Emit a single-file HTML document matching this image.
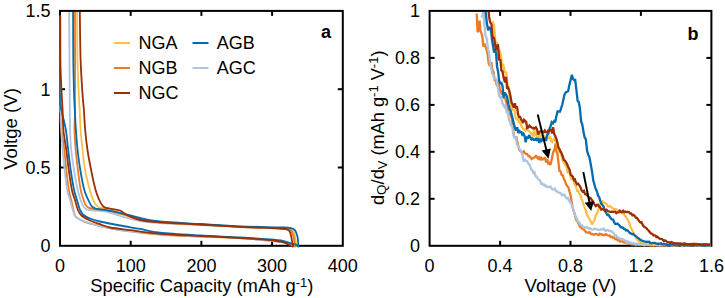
<!DOCTYPE html>
<html><head><meta charset="utf-8"><style>
html,body{margin:0;padding:0;background:#fff;}
svg{display:block;}
text{font-family:"Liberation Sans",sans-serif;font-size:18px;fill:#000;}
</style></head><body>
<svg width="725" height="298" viewBox="0 0 725 298">
<defs><clipPath id="ca"><rect x="59.0" y="12.0" width="282.8" height="235.4"/></clipPath>
<clipPath id="cb"><rect x="428.6" y="12.0" width="281.8" height="235.4"/></clipPath></defs>
<rect x="60.0" y="10.9" width="282.8" height="234.9" fill="none" stroke="#000" stroke-width="2"/>
<rect x="429.6" y="10.9" width="281.8" height="234.9" fill="none" stroke="#000" stroke-width="2"/>
<line x1="130.7" y1="245.8" x2="130.7" y2="240.8" stroke="#000" stroke-width="2"/>
<line x1="130.7" y1="10.9" x2="130.7" y2="15.9" stroke="#000" stroke-width="2"/>
<line x1="201.4" y1="245.8" x2="201.4" y2="240.8" stroke="#000" stroke-width="2"/>
<line x1="201.4" y1="10.9" x2="201.4" y2="15.9" stroke="#000" stroke-width="2"/>
<line x1="272.1" y1="245.8" x2="272.1" y2="240.8" stroke="#000" stroke-width="2"/>
<line x1="272.1" y1="10.9" x2="272.1" y2="15.9" stroke="#000" stroke-width="2"/>
<line x1="60.0" y1="167.5" x2="65.0" y2="167.5" stroke="#000" stroke-width="2"/>
<line x1="342.8" y1="167.5" x2="337.8" y2="167.5" stroke="#000" stroke-width="2"/>
<line x1="60.0" y1="89.2" x2="65.0" y2="89.2" stroke="#000" stroke-width="2"/>
<line x1="342.8" y1="89.2" x2="337.8" y2="89.2" stroke="#000" stroke-width="2"/>
<line x1="500.1" y1="245.8" x2="500.1" y2="240.8" stroke="#000" stroke-width="2"/>
<line x1="500.1" y1="10.9" x2="500.1" y2="15.9" stroke="#000" stroke-width="2"/>
<line x1="570.5" y1="245.8" x2="570.5" y2="240.8" stroke="#000" stroke-width="2"/>
<line x1="570.5" y1="10.9" x2="570.5" y2="15.9" stroke="#000" stroke-width="2"/>
<line x1="640.9" y1="245.8" x2="640.9" y2="240.8" stroke="#000" stroke-width="2"/>
<line x1="640.9" y1="10.9" x2="640.9" y2="15.9" stroke="#000" stroke-width="2"/>
<line x1="429.6" y1="198.8" x2="434.6" y2="198.8" stroke="#000" stroke-width="2"/>
<line x1="711.4" y1="198.8" x2="706.4" y2="198.8" stroke="#000" stroke-width="2"/>
<line x1="429.6" y1="151.8" x2="434.6" y2="151.8" stroke="#000" stroke-width="2"/>
<line x1="711.4" y1="151.8" x2="706.4" y2="151.8" stroke="#000" stroke-width="2"/>
<line x1="429.6" y1="104.9" x2="434.6" y2="104.9" stroke="#000" stroke-width="2"/>
<line x1="711.4" y1="104.9" x2="706.4" y2="104.9" stroke="#000" stroke-width="2"/>
<line x1="429.6" y1="57.9" x2="434.6" y2="57.9" stroke="#000" stroke-width="2"/>
<line x1="711.4" y1="57.9" x2="706.4" y2="57.9" stroke="#000" stroke-width="2"/>
<g clip-path="url(#ca)" fill="none" stroke-width="1.8" stroke-linejoin="round" stroke-linecap="round">
<path d="M60.20 17.00 C60.22 32.50 60.08 91.17 60.30 110.00 C60.52 128.83 60.83 123.33 61.50 130.00 C62.17 136.67 63.50 143.33 64.30 150.00 C65.10 156.67 65.55 163.33 66.30 170.00 C67.05 176.67 67.98 185.00 68.80 190.00 C69.62 195.00 70.42 196.67 71.20 200.00 C71.98 203.33 72.78 207.25 73.50 210.00 C74.22 212.75 73.58 214.50 75.50 216.50 C77.42 218.50 80.92 220.42 85.00 222.00 C89.08 223.58 94.17 224.67 100.00 226.00 C105.83 227.33 110.00 228.58 120.00 230.00 C130.00 231.42 146.67 233.42 160.00 234.50 C173.33 235.58 186.67 235.88 200.00 236.50 C213.33 237.12 225.83 237.20 240.00 238.20 C254.17 239.20 276.17 241.20 285.00 242.50 C293.83 243.80 291.67 245.42 293.00 246.00" stroke="#ec7a22"/>
<path d="M69.10 10.00 C69.17 18.33 69.38 43.33 69.50 60.00 C69.62 76.67 69.70 98.33 69.80 110.00 C69.90 121.67 69.87 123.33 70.10 130.00 C70.33 136.67 70.55 143.33 71.20 150.00 C71.85 156.67 72.92 163.33 74.00 170.00 C75.08 176.67 76.60 185.00 77.70 190.00 C78.80 195.00 79.63 197.25 80.60 200.00 C81.57 202.75 82.52 204.95 83.50 206.50 C84.48 208.05 84.58 208.63 86.50 209.30 C88.42 209.97 91.75 210.12 95.00 210.50 C98.25 210.88 101.83 210.68 106.00 211.60 C110.17 212.52 114.33 214.43 120.00 216.00 C125.67 217.57 133.33 219.83 140.00 221.00 C146.67 222.17 150.00 222.33 160.00 223.00 C170.00 223.67 186.67 224.33 200.00 225.00 C213.33 225.67 226.67 226.42 240.00 227.00 C253.33 227.58 271.58 228.08 280.00 228.50 C288.42 228.92 288.33 228.92 290.50 229.50 C292.67 230.08 292.25 229.25 293.00 232.00 C293.75 234.75 294.67 243.67 295.00 246.00" stroke="#aec4df"/>
<path d="M60.30 17.00 C60.33 31.67 60.38 89.50 60.50 105.00 C60.62 120.50 60.88 105.83 61.00 110.00 C61.12 114.17 60.92 123.33 61.20 130.00 C61.48 136.67 62.13 143.33 62.70 150.00 C63.27 156.67 63.85 163.33 64.60 170.00 C65.35 176.67 66.28 185.00 67.20 190.00 C68.12 195.00 69.15 196.67 70.10 200.00 C71.05 203.33 72.00 207.25 72.90 210.00 C73.80 212.75 73.48 214.58 75.50 216.50 C77.52 218.42 80.92 219.88 85.00 221.50 C89.08 223.12 94.17 224.78 100.00 226.20 C105.83 227.62 110.00 228.70 120.00 230.00 C130.00 231.30 146.67 232.95 160.00 234.00 C173.33 235.05 186.67 235.60 200.00 236.30 C213.33 237.00 225.83 237.17 240.00 238.20 C254.17 239.23 276.33 241.28 285.00 242.50 C293.67 243.72 290.83 245.00 292.00 245.50" stroke="#aec4df"/>
<path d="M77.10 10.00 C77.17 18.33 77.22 45.83 77.50 60.00 C77.78 74.17 78.43 86.67 78.80 95.00 C79.17 103.33 79.40 104.17 79.70 110.00 C80.00 115.83 80.12 123.33 80.60 130.00 C81.08 136.67 81.87 143.33 82.60 150.00 C83.33 156.67 83.80 163.33 85.00 170.00 C86.20 176.67 88.43 185.00 89.80 190.00 C91.17 195.00 92.08 197.42 93.20 200.00 C94.32 202.58 95.37 204.23 96.50 205.50 C97.63 206.77 98.42 207.02 100.00 207.60 C101.58 208.18 102.67 208.10 106.00 209.00 C109.33 209.90 116.00 211.67 120.00 213.00 C124.00 214.33 126.67 215.92 130.00 217.00 C133.33 218.08 135.00 218.62 140.00 219.50 C145.00 220.38 150.00 221.47 160.00 222.30 C170.00 223.13 186.67 223.75 200.00 224.50 C213.33 225.25 226.67 226.17 240.00 226.80 C253.33 227.43 271.50 227.93 280.00 228.30 C288.50 228.67 288.67 228.47 291.00 229.00 C293.33 229.53 293.08 228.67 294.00 231.50 C294.92 234.33 296.08 243.58 296.50 246.00" stroke="#fdc046"/>
<path d="M75.00 10.00 C75.02 18.33 75.10 43.33 75.10 60.00 C75.10 76.67 75.10 98.33 75.00 110.00 C74.90 121.67 74.38 123.33 74.50 130.00 C74.62 136.67 75.13 143.33 75.70 150.00 C76.27 156.67 77.07 163.33 77.90 170.00 C78.73 176.67 79.75 185.00 80.70 190.00 C81.65 195.00 82.72 197.42 83.60 200.00 C84.48 202.58 85.10 204.20 86.00 205.50 C86.90 206.80 87.50 207.22 89.00 207.80 C90.50 208.38 92.17 208.62 95.00 209.00 C97.83 209.38 101.00 209.10 106.00 210.10 C111.00 211.10 119.33 213.55 125.00 215.00 C130.67 216.45 134.17 217.58 140.00 218.80 C145.83 220.02 150.00 221.35 160.00 222.30 C170.00 223.25 186.67 223.75 200.00 224.50 C213.33 225.25 226.67 226.17 240.00 226.80 C253.33 227.43 272.00 227.93 280.00 228.30 C288.00 228.67 286.17 228.63 288.00 229.00 C289.83 229.37 290.17 229.50 291.00 230.50 C291.83 231.50 292.45 233.42 293.00 235.00 C293.55 236.58 293.97 238.00 294.30 240.00 C294.63 242.00 294.88 245.83 295.00 247.00" stroke="#ec7a22"/>
<path d="M73.10 10.00 C73.13 18.33 73.13 45.83 73.30 60.00 C73.47 74.17 73.85 86.67 74.10 95.00 C74.35 103.33 74.50 104.17 74.80 110.00 C75.10 115.83 75.43 123.33 75.90 130.00 C76.37 136.67 76.87 143.33 77.60 150.00 C78.33 156.67 79.18 163.33 80.30 170.00 C81.42 176.67 82.97 185.00 84.30 190.00 C85.63 195.00 87.10 197.33 88.30 200.00 C89.50 202.67 90.38 204.62 91.50 206.00 C92.62 207.38 93.58 207.75 95.00 208.30 C96.42 208.85 98.17 209.00 100.00 209.30 C101.83 209.60 102.67 209.52 106.00 210.10 C109.33 210.68 114.73 211.58 120.00 212.80 C125.27 214.02 130.93 215.95 137.60 217.40 C144.27 218.85 149.60 220.40 160.00 221.50 C170.40 222.60 186.67 223.20 200.00 224.00 C213.33 224.80 226.67 225.73 240.00 226.30 C253.33 226.87 271.50 227.10 280.00 227.40 C288.50 227.70 288.48 227.62 291.00 228.10 C293.52 228.58 294.05 228.98 295.10 230.30 C296.15 231.62 296.82 234.38 297.30 236.00 C297.78 237.62 297.83 238.17 298.00 240.00 C298.17 241.83 298.25 245.83 298.30 247.00" stroke="#046cae"/>
<path d="M59.90 17.00 C59.90 30.00 59.80 80.33 59.90 95.00 C60.00 109.67 60.07 101.67 60.50 105.00 C60.93 108.33 61.60 110.83 62.50 115.00 C63.40 119.17 64.95 124.17 65.90 130.00 C66.85 135.83 67.40 143.33 68.20 150.00 C69.00 156.67 69.72 163.33 70.70 170.00 C71.68 176.67 73.05 185.00 74.10 190.00 C75.15 195.00 76.00 196.67 77.00 200.00 C78.00 203.33 79.10 207.58 80.10 210.00 C81.10 212.42 81.35 213.08 83.00 214.50 C84.65 215.92 87.17 217.33 90.00 218.50 C92.83 219.67 95.00 220.33 100.00 221.50 C105.00 222.67 113.33 224.27 120.00 225.50 C126.67 226.73 133.33 227.70 140.00 228.90 C146.67 230.10 150.00 231.60 160.00 232.70 C170.00 233.80 186.67 234.70 200.00 235.50 C213.33 236.30 228.33 236.83 240.00 237.50 C251.67 238.17 262.83 238.92 270.00 239.50 C277.17 240.08 279.50 240.35 283.00 241.00 C286.50 241.65 288.98 242.83 291.00 243.40 C293.02 243.97 293.88 243.97 295.10 244.40 C296.32 244.83 297.77 245.73 298.30 246.00" stroke="#046cae"/>
<path d="M79.80 10.00 C79.93 18.33 80.13 45.83 80.60 60.00 C81.07 74.17 82.05 86.67 82.60 95.00 C83.15 103.33 83.47 104.17 83.90 110.00 C84.33 115.83 84.60 123.33 85.20 130.00 C85.80 136.67 86.52 143.33 87.50 150.00 C88.48 156.67 89.75 163.33 91.10 170.00 C92.45 176.67 94.23 185.00 95.60 190.00 C96.97 195.00 98.17 197.42 99.30 200.00 C100.43 202.58 101.45 204.23 102.40 205.50 C103.35 206.77 103.73 207.08 105.00 207.60 C106.27 208.12 107.50 208.12 110.00 208.60 C112.50 209.08 117.17 209.43 120.00 210.50 C122.83 211.57 123.67 213.42 127.00 215.00 C130.33 216.58 134.50 218.78 140.00 220.00 C145.50 221.22 150.00 221.55 160.00 222.30 C170.00 223.05 186.67 223.75 200.00 224.50 C213.33 225.25 226.67 226.13 240.00 226.80 C253.33 227.47 272.17 228.03 280.00 228.50 C287.83 228.97 285.35 229.03 287.00 229.60 C288.65 230.17 289.08 230.15 289.90 231.90 C290.72 233.65 291.43 237.58 291.90 240.10 C292.37 242.62 292.57 245.85 292.70 247.00" stroke="#9c2f04"/>
<path d="M60.20 16.00 C60.22 23.33 60.17 49.33 60.30 60.00 C60.43 70.67 60.72 73.33 61.00 80.00 C61.28 86.67 61.73 95.00 62.00 100.00 C62.27 105.00 62.37 105.00 62.60 110.00 C62.83 115.00 62.78 123.33 63.40 130.00 C64.02 136.67 65.40 143.33 66.30 150.00 C67.20 156.67 67.87 163.33 68.80 170.00 C69.73 176.67 70.87 185.00 71.90 190.00 C72.93 195.00 74.00 196.67 75.00 200.00 C76.00 203.33 76.82 207.42 77.90 210.00 C78.98 212.58 79.48 213.75 81.50 215.50 C83.52 217.25 86.92 219.05 90.00 220.50 C93.08 221.95 96.67 223.03 100.00 224.20 C103.33 225.37 105.00 226.50 110.00 227.50 C115.00 228.50 121.67 229.15 130.00 230.20 C138.33 231.25 148.33 232.83 160.00 233.80 C171.67 234.77 186.67 235.30 200.00 236.00 C213.33 236.70 228.33 237.33 240.00 238.00 C251.67 238.67 262.83 239.32 270.00 240.00 C277.17 240.68 279.62 241.18 283.00 242.10 C286.38 243.02 289.08 244.93 290.30 245.50" stroke="#9c2f04"/>
</g>
<g clip-path="url(#cb)" fill="none" stroke-width="2.3" stroke-linejoin="miter" stroke-miterlimit="2">
<path d="M476.7 13.5 L477.6 32.1 L478.5 30.9 L479.5 20.6 L480.5 31.0 L481.5 33.4 L482.4 36.9 L483.3 46.5 L484.4 43.6 L485.4 46.6 L486.5 49.5 L487.7 54.6 L488.8 63.9 L490.0 65.9 L491.2 62.2 L492.3 69.5 L493.5 72.3 L494.6 80.0 L495.6 80.3 L496.7 84.7 L497.7 83.9 L498.8 80.5 L499.8 90.0 L500.9 91.6 L501.9 94.6 L503.0 91.8 L504.0 98.0 L505.1 98.1 L506.3 102.2 L507.5 108.9 L508.7 112.9 L509.9 113.9 L511.1 116.2 L512.1 119.3 L513.0 127.8 L514.0 135.7 L515.0 137.9 L516.1 136.3 L517.2 141.0 L518.2 145.5 L519.3 149.7 L520.4 151.1 L521.5 152.1 L522.6 152.6 L523.8 151.4 L524.9 153.1 L526.1 154.0 L527.2 154.1 L528.4 156.1 L529.5 156.2 L530.6 157.4 L531.7 159.1 L532.8 158.2 L533.8 157.9 L534.9 157.0 L536.0 155.3 L537.1 157.6 L538.2 158.7 L539.4 156.7 L540.5 160.2 L541.6 158.1 L542.7 159.4 L543.9 158.6 L545.0 157.5 L546.1 162.4 L547.2 159.3 L548.2 163.5 L549.3 162.9 L550.4 165.0 L551.4 161.1 L552.5 155.2 L553.5 151.5 L554.6 149.3 L555.6 143.5 L556.5 151.9 L557.3 152.7 L558.4 162.0 L559.5 171.1 L560.6 171.4 L561.7 175.0 L562.8 175.4 L563.9 179.0 L565.0 181.0 L566.1 184.3 L567.2 186.1 L568.4 187.3 L569.5 191.6 L570.5 194.9 L571.5 201.1 L572.4 206.3 L573.4 210.4 L574.5 213.2 L575.6 217.8 L576.7 220.8 L577.7 221.7 L578.7 223.9 L579.7 226.4 L580.7 227.3 L581.8 228.4 L582.9 229.1 L583.9 229.4 L585.0 230.9 L586.1 232.3 L587.3 232.5 L588.4 232.6 L589.6 232.1 L590.7 233.8 L591.9 233.9 L593.0 234.3 L594.2 234.8 L595.3 234.1 L596.4 234.0 L597.5 234.5 L598.6 235.1 L599.7 233.7 L600.7 234.4 L601.8 234.3 L602.9 234.9 L604.0 235.3 L605.1 234.6 L606.2 234.3 L607.3 235.3 L608.5 235.6 L609.6 235.5 L610.7 237.0 L611.9 236.8 L613.0 237.8 L614.1 237.5 L615.3 239.1 L616.4 238.6 L617.6 240.2 L618.7 239.6 L619.9 241.5 L621.0 241.3 L622.0 241.2 L623.1 242.0 L624.1 242.5 L625.2 242.3 L626.2 242.8 L627.3 243.4 L628.3 243.6 L629.4 243.1 L630.4 244.1 L631.5 244.4 L632.6 244.4 L633.7 244.6 L634.8 244.2 L635.8 245.1 L636.9 244.7 L638.0 244.7 L639.1 244.9 L640.2 244.9 L641.3 244.8 L642.4 244.7 L643.5 245.1 L644.6 245.0 L645.6 244.5 L646.7 244.8 L647.8 245.2 L648.9 245.2 L650.0 245.3 L651.1 245.4 L652.2 245.2 L653.3 245.6 L654.4 245.1 L655.5 245.1 L656.7 245.3 L657.8 245.4 L658.9 245.4 L660.0 245.6 L661.1 245.1 L662.2 245.5 L663.3 245.4 L664.4 245.0 L665.5 245.2 L666.6 245.8 L667.7 245.5 L668.9 245.1 L670.0 244.7 L671.1 245.1 L672.2 245.1 L673.3 245.3 L674.4 245.9 L675.5 245.5 L676.6 245.4 L677.7 245.1 L678.8 245.0 L679.9 245.2 L681.1 245.2 L682.2 246.1 L683.3 245.2 L684.4 245.2 L685.5 245.6 L686.6 245.3 L687.7 245.0 L688.8 245.6 L689.9 245.3 L691.0 245.0 L692.1 245.4 L693.3 245.5 L694.4 245.3 L695.5 245.5 L696.6 245.6 L697.7 245.1 L698.8 244.8 L699.9 244.8 L701.0 245.3 L702.1 245.7 L703.2 245.6 L704.3 245.7 L705.5 245.8 L706.6 245.4 L707.7 245.7 L708.8 245.0 L709.9 245.6 L711.0 245.5" stroke="#ec7a22"/>
<path d="M481.4 17.6 L482.4 15.5 L483.4 11.7 L484.4 24.1 L485.4 35.6 L486.8 38.6 L488.1 50.2 L489.1 52.7 L490.0 63.6 L491.0 66.5 L492.1 73.8 L493.1 74.3 L494.1 78.5 L495.2 78.0 L496.4 79.6 L497.5 85.7 L498.6 93.1 L499.8 97.9 L501.0 95.8 L502.1 102.2 L503.2 104.9 L504.4 106.7 L505.5 104.7 L506.7 112.2 L507.8 112.0 L509.0 119.8 L510.1 121.8 L511.1 126.3 L512.1 124.9 L513.3 134.4 L514.5 137.8 L515.8 137.5 L517.0 144.7 L518.1 145.9 L519.2 148.2 L520.4 150.1 L521.5 152.5 L522.6 155.0 L523.7 161.6 L524.8 159.1 L525.9 160.7 L527.0 161.1 L528.0 162.8 L529.1 164.6 L530.1 165.9 L531.2 169.7 L532.2 170.0 L533.4 173.0 L534.5 172.3 L535.7 176.3 L536.8 176.8 L538.0 179.2 L539.0 179.7 L540.0 180.2 L541.0 183.6 L542.0 183.3 L543.0 184.9 L544.1 184.6 L545.1 186.0 L546.2 185.8 L547.3 186.9 L548.4 187.3 L549.4 186.8 L550.5 186.5 L551.6 188.6 L552.6 189.4 L553.7 189.6 L554.8 188.7 L555.8 190.9 L556.9 191.4 L558.0 192.0 L559.0 192.8 L560.1 192.8 L561.2 193.9 L562.3 195.2 L563.3 194.7 L564.4 194.6 L565.5 196.9 L566.6 198.4 L567.7 198.0 L568.8 200.1 L569.9 202.2 L571.0 202.9 L572.2 206.6 L573.4 209.2 L574.6 213.6 L575.8 217.1 L576.9 219.0 L578.1 221.7 L579.2 222.4 L580.2 224.4 L581.3 225.0 L582.3 225.5 L583.4 227.4 L584.5 227.5 L585.6 227.8 L586.8 227.0 L587.9 228.1 L589.0 228.8 L590.1 228.2 L591.2 229.3 L592.4 229.6 L593.5 229.5 L594.6 228.7 L595.7 228.8 L596.9 229.6 L598.0 229.7 L599.1 229.8 L600.2 229.9 L601.4 229.3 L602.5 229.3 L603.6 228.6 L604.7 230.1 L605.8 231.0 L607.0 229.9 L608.1 230.1 L609.2 230.9 L610.3 231.0 L611.4 231.1 L612.5 232.3 L613.6 233.0 L614.8 235.3 L615.9 235.0 L617.0 236.6 L618.1 237.7 L619.2 238.3 L620.4 238.8 L621.5 239.5 L622.6 239.0 L623.7 240.1 L624.8 240.4 L625.9 241.0 L627.0 242.6 L628.2 241.3 L629.3 242.7 L630.4 242.4 L631.5 243.4 L632.6 243.5 L633.8 243.2 L634.9 244.0 L636.0 243.6 L637.1 244.1 L638.2 244.0 L639.3 243.9 L640.4 244.1 L641.6 244.3 L642.7 244.6 L643.8 244.6 L644.9 245.2 L646.0 244.6 L647.1 244.6 L648.3 244.5 L649.4 244.6 L650.5 244.4 L651.6 244.6 L652.7 245.1 L653.8 244.9 L655.0 244.9 L656.1 245.0 L657.2 245.2 L658.3 245.2 L659.4 245.2 L660.5 244.9 L661.7 245.0 L662.8 244.9 L663.9 245.1 L665.0 245.0 L666.1 245.1 L667.2 245.2 L668.3 245.2 L669.4 245.2 L670.5 245.1 L671.6 245.6 L672.7 245.1 L673.8 245.0 L674.9 245.3 L676.0 245.0 L677.0 245.0 L678.1 245.3 L679.2 244.8 L680.3 244.5 L681.4 245.3 L682.5 245.5 L683.6 244.9 L684.7 245.1 L685.8 245.4 L686.9 244.8 L688.0 245.1 L689.1 245.0 L690.2 245.3 L691.3 244.8 L692.4 245.5 L693.5 245.3 L694.6 245.4 L695.7 245.3 L696.8 244.8 L697.9 245.3 L699.0 245.0 L700.0 245.4 L701.1 245.1 L702.2 245.3 L703.3 245.3 L704.4 245.6 L705.5 245.6 L706.6 245.1 L707.7 245.4 L708.8 245.8 L709.9 245.5 L711.0 245.2" stroke="#aec4df"/>
<path d="M491.5 23.7 L492.8 22.3 L494.1 25.2 L495.5 43.8 L496.8 42.1 L497.9 59.0 L499.0 50.7 L500.0 51.3 L501.1 56.9 L502.1 66.3 L503.1 63.8 L504.1 69.2 L505.2 73.1 L506.2 71.9 L507.2 81.7 L508.1 86.0 L509.1 90.2 L510.1 102.4 L511.2 106.7 L512.3 110.2 L513.4 110.2 L514.6 110.1 L515.7 118.3 L516.9 119.4 L518.0 118.3 L519.0 123.0 L520.1 121.1 L521.1 125.5 L522.1 127.0 L523.1 128.6 L524.2 129.5 L525.2 130.5 L526.3 128.4 L527.4 130.3 L528.5 130.5 L529.6 131.5 L530.8 132.9 L531.9 134.1 L533.0 136.5 L534.1 128.8 L535.2 135.0 L536.4 134.3 L537.7 139.4 L538.9 137.4 L540.1 133.0 L541.2 137.2 L542.3 135.9 L543.4 139.0 L544.5 135.6 L545.6 137.7 L546.6 138.0 L547.7 138.5 L548.8 138.0 L549.9 136.1 L551.0 140.6 L552.1 141.9 L553.1 140.2 L554.2 138.8 L555.2 141.1 L556.2 142.0 L557.1 143.7 L558.1 147.0 L559.0 152.2 L560.0 151.3 L561.0 155.2 L562.0 156.4 L563.0 161.2 L564.2 163.1 L565.4 164.9 L566.5 167.2 L567.7 172.3 L568.9 171.9 L570.1 174.0 L571.3 179.1 L572.5 179.2 L573.6 180.1 L574.8 184.8 L576.0 186.1 L577.1 190.9 L578.2 190.7 L579.3 193.7 L580.4 195.3 L581.5 199.1 L582.6 201.3 L583.7 205.0 L584.8 207.8 L585.9 210.6 L587.0 214.6 L588.0 216.6 L589.0 218.2 L590.0 219.8 L591.0 221.8 L592.0 224.5 L593.2 222.1 L594.3 220.6 L595.5 216.5 L596.7 213.7 L597.8 211.2 L599.0 208.3 L600.0 205.5 L601.0 203.2 L602.0 200.5 L603.1 202.7 L604.3 202.7 L605.4 203.5 L606.6 203.9 L607.7 206.2 L608.8 206.5 L609.8 206.1 L610.9 206.6 L612.0 207.7 L613.1 208.8 L614.1 209.0 L615.2 209.1 L616.2 209.3 L617.3 210.2 L618.3 210.5 L619.4 212.3 L620.4 210.7 L621.4 211.7 L622.5 213.2 L623.5 212.7 L624.5 215.4 L625.5 216.2 L626.5 217.9 L627.5 219.3 L628.5 221.0 L629.5 223.4 L630.5 227.2 L631.5 228.6 L632.5 230.8 L633.6 233.2 L634.8 235.2 L635.9 237.7 L637.0 239.4 L638.0 240.2 L639.0 241.4 L640.0 241.6 L641.0 242.0 L642.1 242.5 L643.2 242.5 L644.4 243.1 L645.5 242.7 L646.6 242.9 L647.7 243.2 L648.8 243.8 L649.9 243.5 L651.1 243.7 L652.2 243.7 L653.3 243.9 L654.4 244.2 L655.5 244.5 L656.6 243.8 L657.8 244.7 L658.9 244.5 L660.0 244.5 L661.1 245.2 L662.2 244.6 L663.3 245.1 L664.4 244.9 L665.5 244.4 L666.7 244.8 L667.8 244.9 L668.9 244.7 L670.0 244.2 L671.1 244.7 L672.2 244.7 L673.3 244.5 L674.4 245.3 L675.5 244.8 L676.6 244.7 L677.7 244.8 L678.8 244.7 L680.0 244.7 L681.1 244.9 L682.2 245.0 L683.3 244.8 L684.4 244.9 L685.5 244.6 L686.6 245.1 L687.7 244.8 L688.8 245.0 L689.9 244.8 L691.0 244.9 L692.2 245.1 L693.3 244.8 L694.4 245.7 L695.5 245.1 L696.6 245.1 L697.7 244.9 L698.8 245.5 L699.9 245.5 L701.0 245.2 L702.1 244.8 L703.2 245.1 L704.3 245.4 L705.5 245.1 L706.6 244.9 L707.7 245.0 L708.8 245.1 L709.9 245.3 L711.0 245.1" stroke="#fdc046"/>
<path d="M485.4 9.6 L486.8 22.6 L488.1 30.3 L489.5 27.7 L490.8 28.7 L491.9 38.9 L493.0 45.7 L494.1 52.6 L495.1 48.6 L496.1 54.0 L497.1 67.1 L498.1 71.7 L499.1 80.2 L500.2 83.2 L501.4 83.0 L502.5 85.8 L503.6 97.6 L504.8 92.5 L506.0 94.5 L507.1 96.9 L508.3 104.2 L509.5 108.4 L510.7 111.2 L511.9 115.9 L513.1 120.6 L514.1 124.8 L515.2 128.9 L516.2 130.4 L517.2 127.3 L518.2 133.1 L519.2 129.8 L520.2 133.0 L521.2 131.4 L522.3 134.7 L523.5 133.7 L524.6 136.0 L525.7 142.2 L526.9 136.4 L528.0 138.6 L529.1 135.0 L530.3 137.3 L531.4 139.5 L532.6 138.5 L533.7 139.8 L534.9 139.8 L536.0 138.2 L537.1 140.9 L538.2 138.3 L539.3 143.0 L540.4 138.7 L541.6 140.7 L542.7 139.3 L543.8 140.9 L544.9 138.0 L546.0 140.8 L547.1 135.1 L548.3 134.1 L549.4 129.3 L550.6 126.2 L551.7 122.1 L552.9 123.3 L554.1 121.1 L555.2 122.2 L556.4 116.1 L557.6 111.4 L558.8 111.7 L560.0 111.7 L561.2 108.0 L562.3 104.5 L563.5 98.9 L564.6 94.2 L565.8 92.4 L567.0 91.7 L568.2 91.0 L569.4 84.8 L570.5 80.5 L571.9 74.7 L573.0 78.9 L574.1 80.1 L575.2 80.0 L576.4 89.9 L577.6 100.8 L578.8 102.0 L579.9 108.2 L581.1 121.4 L582.3 124.5 L583.5 131.8 L584.6 137.3 L585.8 139.2 L587.1 150.8 L588.3 155.0 L589.2 156.5 L590.2 161.1 L591.2 167.0 L592.2 172.5 L593.2 180.1 L594.2 183.6 L595.2 187.3 L596.2 189.9 L597.2 192.4 L598.2 196.1 L599.2 197.0 L600.2 200.9 L601.2 203.4 L602.3 204.8 L603.3 206.1 L604.3 208.5 L605.2 211.0 L606.2 213.0 L607.4 215.0 L608.5 214.8 L609.7 216.7 L610.8 218.4 L612.0 219.3 L613.1 219.5 L614.3 222.5 L615.3 224.0 L616.4 223.9 L617.4 223.6 L618.5 224.6 L619.5 225.5 L620.6 227.3 L621.6 227.1 L622.7 227.5 L623.7 228.8 L624.8 228.8 L625.8 230.4 L626.9 230.0 L628.0 230.8 L629.0 232.1 L630.1 233.2 L631.2 233.6 L632.3 234.2 L633.3 234.0 L634.4 235.2 L635.6 236.0 L636.7 236.8 L637.9 238.1 L639.0 238.4 L640.2 239.7 L641.3 240.2 L642.5 240.8 L643.6 241.2 L644.7 241.5 L645.9 241.9 L647.0 241.6 L648.1 241.9 L649.2 241.7 L650.4 243.1 L651.5 243.3 L652.6 242.8 L653.7 242.9 L654.8 242.9 L655.8 243.3 L656.9 243.5 L658.0 244.1 L659.1 243.7 L660.1 243.6 L661.2 243.3 L662.3 244.4 L663.4 244.3 L664.4 243.9 L665.5 244.5 L666.6 244.2 L667.7 245.5 L668.8 244.9 L669.9 244.8 L671.1 244.7 L672.2 244.2 L673.3 244.7 L674.4 244.4 L675.5 245.0 L676.6 244.3 L677.7 244.7 L678.9 245.2 L680.0 245.4 L681.1 244.7 L682.2 244.6 L683.3 245.2 L684.4 245.3 L685.5 244.8 L686.7 244.9 L687.8 245.0 L688.9 244.9 L690.0 245.0 L691.1 245.5 L692.2 245.4 L693.3 245.7 L694.4 245.2 L695.5 245.2 L696.6 245.0 L697.7 245.2 L698.8 245.0 L699.9 244.9 L701.1 245.5 L702.2 245.7 L703.3 245.5 L704.4 245.7 L705.5 245.4 L706.6 245.2 L707.7 245.4 L708.8 245.3 L709.9 245.1 L711.0 245.0" stroke="#046cae"/>
<path d="M488.1 4.1 L489.1 16.7 L490.1 22.2 L491.5 24.5 L492.8 38.9 L493.9 37.2 L494.9 43.2 L495.9 50.0 L497.0 45.6 L498.1 45.3 L499.2 60.3 L500.3 59.0 L501.4 70.6 L502.5 71.2 L503.8 78.4 L505.0 82.5 L506.1 76.8 L507.2 88.9 L508.2 88.0 L509.3 91.2 L510.4 95.5 L511.5 102.1 L512.6 104.8 L513.8 107.6 L514.9 103.3 L516.0 108.5 L517.0 106.3 L518.0 113.8 L519.0 117.4 L520.0 116.3 L521.0 119.5 L522.1 120.4 L523.1 123.0 L524.1 119.9 L525.1 120.9 L526.2 121.9 L527.2 128.2 L528.3 127.5 L529.4 125.6 L530.5 126.9 L531.6 127.4 L532.7 128.2 L533.7 128.0 L534.8 128.4 L535.9 127.3 L537.0 129.2 L538.1 134.4 L539.2 132.3 L540.3 131.4 L541.4 131.0 L542.5 131.7 L543.7 132.3 L544.8 130.5 L545.9 132.3 L547.0 132.5 L548.1 130.6 L549.1 130.5 L550.1 130.0 L551.1 129.8 L552.1 133.5 L553.1 127.1 L554.2 134.0 L555.3 136.1 L556.4 138.9 L557.5 143.1 L558.5 147.8 L559.5 149.0 L560.6 151.6 L561.6 153.2 L562.7 156.2 L563.8 160.0 L564.8 160.5 L566.0 162.0 L567.2 164.4 L568.3 167.2 L569.5 169.4 L570.7 174.9 L571.8 175.7 L572.8 176.7 L573.9 180.1 L574.9 179.5 L576.0 182.6 L577.0 184.3 L578.1 183.7 L579.2 185.1 L580.4 187.0 L581.5 190.1 L582.7 191.7 L583.9 190.9 L585.0 194.2 L586.1 194.2 L587.2 195.4 L588.3 196.4 L589.3 197.8 L590.4 197.8 L591.5 199.7 L592.6 200.7 L593.7 202.8 L594.7 204.8 L595.8 206.1 L596.9 204.9 L598.0 204.8 L599.0 206.6 L600.1 207.1 L601.2 209.5 L602.3 209.1 L603.4 208.8 L604.4 210.4 L605.5 210.7 L606.6 209.9 L607.7 211.1 L608.8 211.4 L609.8 211.6 L610.9 211.8 L612.0 211.6 L613.1 212.1 L614.1 211.7 L615.2 211.6 L616.3 213.1 L617.5 212.3 L618.6 212.2 L619.8 210.9 L620.9 211.7 L622.0 212.3 L623.2 210.9 L624.3 212.3 L625.5 211.5 L626.6 212.0 L627.8 211.8 L629.0 212.1 L630.1 213.6 L631.2 213.4 L632.4 215.4 L633.5 214.9 L634.6 215.7 L635.8 217.7 L636.9 217.9 L638.0 219.4 L639.2 221.2 L640.4 222.5 L641.5 222.1 L642.5 224.4 L643.5 226.2 L644.5 227.0 L645.5 227.4 L646.7 228.5 L647.9 230.0 L649.0 231.0 L650.2 232.7 L651.2 233.4 L652.3 234.0 L653.3 235.3 L654.4 235.3 L655.4 235.5 L656.5 237.2 L657.5 236.9 L658.6 237.9 L659.6 238.6 L660.7 238.9 L661.7 239.0 L662.8 239.7 L663.9 241.1 L664.9 240.4 L666.0 240.9 L667.0 241.8 L668.1 242.1 L669.2 242.4 L670.2 242.9 L671.3 242.1 L672.4 242.6 L673.5 243.1 L674.6 243.2 L675.6 243.5 L676.7 243.4 L677.8 243.3 L678.9 243.4 L680.0 243.4 L681.1 243.6 L682.1 243.8 L683.2 243.6 L684.3 243.5 L685.4 243.6 L686.5 244.1 L687.6 244.2 L688.7 244.2 L689.9 244.2 L691.0 244.2 L692.1 244.0 L693.2 244.2 L694.3 243.8 L695.4 244.1 L696.5 244.0 L697.6 244.4 L698.8 244.1 L699.9 244.2 L701.0 244.4 L702.1 244.7 L703.2 244.2 L704.3 244.2 L705.4 244.6 L706.5 244.2 L707.7 244.6 L708.8 244.4 L709.9 244.5 L711.0 244.1" stroke="#9c2f04"/>
</g>
<line x1="537.7" y1="114.5" x2="546.5" y2="150.4" stroke="#000" stroke-width="1.9"/>
<path d="M548.5 158.7 L541.7 150.6 L550.8 148.4 Z" fill="#000"/>
<line x1="583.3" y1="172.0" x2="589.5" y2="202.8" stroke="#000" stroke-width="1.9"/>
<path d="M591.2 211.1 L584.7 202.7 L593.9 200.9 Z" fill="#000"/>
<text x="50.5" y="252.3" text-anchor="end">0</text>
<text x="50.5" y="174.0" text-anchor="end">0.5</text>
<text x="50.5" y="95.7" text-anchor="end">1</text>
<text x="50.5" y="17.4" text-anchor="end">1.5</text>
<text x="60.0" y="272.3" text-anchor="middle">0</text>
<text x="130.7" y="272.3" text-anchor="middle">100</text>
<text x="201.4" y="272.3" text-anchor="middle">200</text>
<text x="272.1" y="272.3" text-anchor="middle">300</text>
<text x="342.8" y="272.3" text-anchor="middle">400</text>
<text x="420.1" y="252.3" text-anchor="end">0</text>
<text x="420.1" y="205.3" text-anchor="end">0.2</text>
<text x="420.1" y="158.3" text-anchor="end">0.4</text>
<text x="420.1" y="111.4" text-anchor="end">0.6</text>
<text x="420.1" y="64.4" text-anchor="end">0.8</text>
<text x="420.1" y="17.4" text-anchor="end">1</text>
<text x="429.6" y="272.3" text-anchor="middle">0</text>
<text x="500.1" y="272.3" text-anchor="middle">0.4</text>
<text x="570.5" y="272.3" text-anchor="middle">0.8</text>
<text x="640.9" y="272.3" text-anchor="middle">1.2</text>
<text x="711.4" y="272.3" text-anchor="middle">1.6</text>
<text x="201.9" y="291.8" text-anchor="middle" style="font-size:18.4px">Specific Capacity (mAh g<tspan dy="-4.8" font-size="13">-1</tspan><tspan dy="4.8">)</tspan></text>
<text x="570.5" y="291.8" text-anchor="middle" style="font-size:18.6px">Voltage (V)</text>
<text transform="translate(16.6,129) rotate(-90)" text-anchor="middle" style="font-size:18.6px">Voltge (V)</text>
<text transform="translate(384,127.8) rotate(-90)" text-anchor="middle" style="font-size:18.2px">d<tspan font-size="13.5" dy="2">Q</tspan><tspan dy="-2">/d</tspan><tspan font-size="13" dy="3">V</tspan><tspan dy="-3"> (mAh g</tspan><tspan font-size="13" dy="-6.5">-1</tspan><tspan dy="6.5"> V</tspan><tspan font-size="13" dy="-6.5">-1</tspan><tspan dy="6.5">)</tspan></text>
<text x="326" y="38" text-anchor="middle" font-weight="bold">a</text>
<text x="693" y="40" text-anchor="middle" font-weight="bold">b</text>
<line x1="114.0" y1="43.0" x2="130.0" y2="43.0" stroke="#fdc046" stroke-width="2"/>
<text x="138.5" y="49.3" text-anchor="start">NGA</text>
<line x1="114.0" y1="68.0" x2="130.0" y2="68.0" stroke="#ec7a22" stroke-width="2"/>
<text x="138.5" y="74.3" text-anchor="start">NGB</text>
<line x1="114.0" y1="93.0" x2="130.0" y2="93.0" stroke="#9c2f04" stroke-width="2"/>
<text x="138.5" y="99.3" text-anchor="start">NGC</text>
<line x1="192.5" y1="43.0" x2="208.5" y2="43.0" stroke="#046cae" stroke-width="2"/>
<text x="216.8" y="49.3" text-anchor="start">AGB</text>
<line x1="192.5" y1="68.0" x2="208.5" y2="68.0" stroke="#aec4df" stroke-width="2"/>
<text x="216.8" y="74.3" text-anchor="start">AGC</text>
</svg></body></html>
